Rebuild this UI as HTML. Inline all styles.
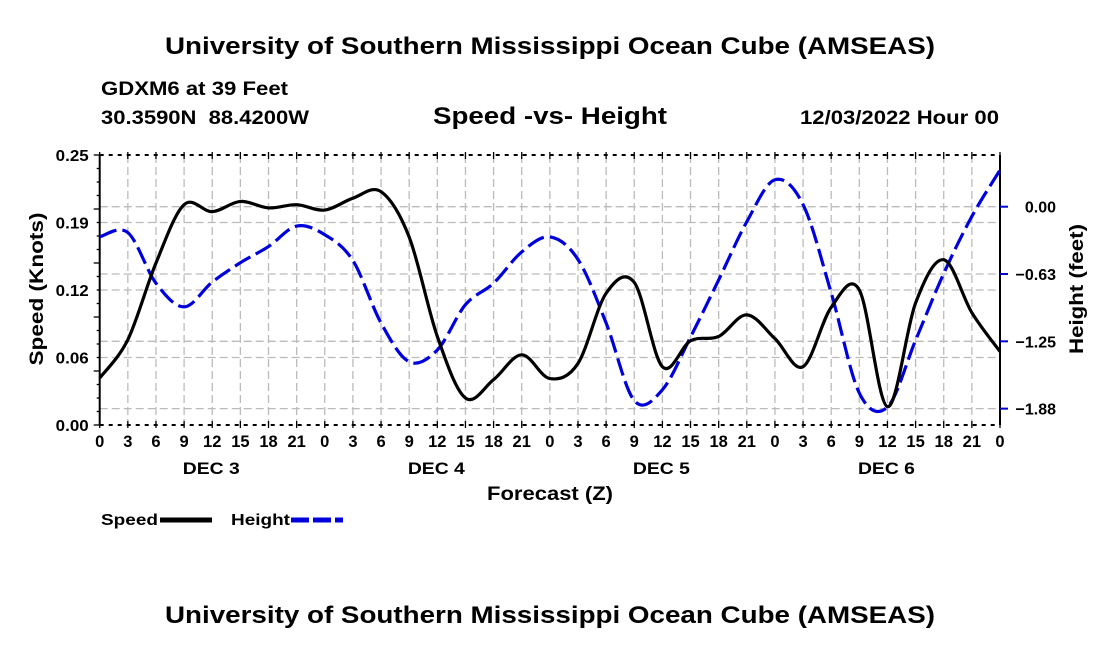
<!DOCTYPE html>
<html><head><meta charset="utf-8"><style>
body{margin:0;background:#fff;}
svg{display:block;font-family:"Liberation Sans",sans-serif;font-weight:bold;}
</style></head><body>
<svg id="c" width="1100" height="650" viewBox="0 0 1100 650">
<text x="550" y="54" text-anchor="middle" font-size="24" textLength="770" lengthAdjust="spacingAndGlyphs">University of Southern Mississippi Ocean Cube (AMSEAS)</text>
<text x="101" y="95" font-size="19" textLength="187" lengthAdjust="spacingAndGlyphs">GDXM6 at 39 Feet</text>
<text x="101" y="124" font-size="19" textLength="208" lengthAdjust="spacingAndGlyphs" xml:space="preserve">30.3590N  88.4200W</text>
<text x="550" y="124" text-anchor="middle" font-size="24" textLength="234" lengthAdjust="spacingAndGlyphs">Speed -vs- Height</text>
<text x="999" y="124" text-anchor="end" font-size="19" textLength="199" lengthAdjust="spacingAndGlyphs">12/03/2022 Hour 00</text>
<g id="grid"></g>
<g id="axes"></g>
<g id="series"></g>
<text x="550" y="500" text-anchor="middle" font-size="19" textLength="126" lengthAdjust="spacingAndGlyphs">Forecast (Z)</text>
<text transform="translate(43,289) rotate(-90)" text-anchor="middle" font-size="19" textLength="153" lengthAdjust="spacingAndGlyphs">Speed (Knots)</text>
<text transform="translate(1083,289) rotate(-90)" text-anchor="middle" font-size="19" textLength="130" lengthAdjust="spacingAndGlyphs">Height (feet)</text>
<g>
<text x="101" y="525" font-size="16" textLength="57" lengthAdjust="spacingAndGlyphs">Speed</text>
<line x1="160" y1="520" x2="212" y2="520" stroke="#000" stroke-width="5"/>
<text x="231" y="525" font-size="16" textLength="59" lengthAdjust="spacingAndGlyphs">Height</text>
<line x1="291" y1="520" x2="343" y2="520" stroke="#0000dd" stroke-width="5" stroke-dasharray="18,4"/>
</g>
<text x="550" y="623" text-anchor="middle" font-size="24" textLength="770" lengthAdjust="spacingAndGlyphs">University of Southern Mississippi Ocean Cube (AMSEAS)</text>
</svg>
<script>
const hours = [0,3,6,9,12,15,18,21,24,27,30,33,36,39,42,45,48,51,54,57,60,63,66,69,72,75,78,81,84,87,90,93,96];
const speed = [0.0435,0.079,0.150,0.204,0.1975,0.207,0.201,0.204,0.199,0.210,0.216,0.174,0.082,0.025,0.042,0.065,0.043,0.057,0.122,0.132,0.054,0.078,0.082,0.102,0.080,0.054,0.109,0.125,0.017,0.113,0.153,0.104,0.068];
const height = [-0.28,-0.24,-0.71,-0.93,-0.70,-0.52,-0.37,-0.18,-0.26,-0.50,-1.08,-1.44,-1.33,-0.91,-0.71,-0.42,-0.28,-0.49,-1.08,-1.80,-1.70,-1.21,-0.68,-0.14,0.25,0.02,-0.80,-1.73,-1.86,-1.24,-0.62,-0.09,0.34];
const xTickLabels = ["0","3","6","9","12","15","18","21"];
const dayLabels = ["DEC 3","DEC 4","DEC 5","DEC 6"];
const leftTicks = [0,0.0625,0.125,0.1875,0.25];
const leftTickLabels = ["0.00","0.06","0.12","0.19","0.25"];
const rightTicks = [0,-0.625,-1.25,-1.875];
const rightTickLabels = ["0.00","-0.63","-1.25","-1.88"];

const L=99.7,R=1000,T=155,B=425;
const xs=t=>L+(R-L)*t/96;
const ys=v=>B-(B-T)*v/0.25;
const yh=h=>206.7-h*107.7;
const NS='http://www.w3.org/2000/svg';
function mk(tag,attrs,parent){const e=document.createElementNS(NS,tag);for(const k in attrs)e.setAttribute(k,attrs[k]);parent.appendChild(e);return e;}
const grid=document.getElementById('grid'),axes=document.getElementById('axes'),series=document.getElementById('series');
for(let i=1;i<32;i++){const x=xs(i*3);const l=mk('line',{x1:x,x2:x,y1:T,y2:B,stroke:'#bbb','stroke-width':1.3,'stroke-dasharray':'8,4'},grid);

}
leftTicks.slice(1,-1).forEach(v=>{const l=mk('line',{x1:L,x2:R,y1:ys(v),y2:ys(v),stroke:'#bbb','stroke-width':1.3,'stroke-dasharray':'8,4'},grid);

});
rightTicks.forEach(v=>{const l=mk('line',{x1:L,x2:R,y1:yh(v),y2:yh(v),stroke:'#bbb','stroke-width':1.3,'stroke-dasharray':'8,4'},grid);

});
mk('line',{x1:L,x2:L,y1:T,y2:B,stroke:'#000','stroke-width':2},axes);
mk('line',{x1:R,x2:R,y1:T,y2:B,stroke:'#000','stroke-width':2},axes);
mk('line',{x1:L,x2:R,y1:T,y2:T,stroke:'#000','stroke-width':2,'stroke-dasharray':'4,5'},axes);
mk('line',{x1:L,x2:R,y1:B,y2:B,stroke:'#000','stroke-width':2,'stroke-dasharray':'4,5'},axes);
for(let i=0;i<=32;i++){const x=xs(i*3);
mk('line',{x1:x,x2:x,y1:T-3,y2:T+4,stroke:'#000','stroke-width':1.3},axes);
mk('line',{x1:x,x2:x,y1:B-4,y2:B+3,stroke:'#000','stroke-width':1.3},axes);
const t=mk('text',{x:x,y:447,'text-anchor':'middle','font-size':16.5},axes);t.textContent=i==32?"0":xTickLabels[i%8];

}
dayLabels.forEach((d,i)=>{const t=mk('text',{x:xs(12+24*i)-1,y:474,'text-anchor':'middle','font-size':16.5,textLength:57,lengthAdjust:'spacingAndGlyphs'},axes);t.textContent=d;

});
for(let i=0;i<=20;i++){const y=B-(B-T)*i/20;mk('line',{x1:L-(i%4==0?6:3),x2:L,y1:y,y2:y,stroke:'#000','stroke-width':1.3},axes);}
leftTicks.forEach((v,i)=>{const t=mk('text',{x:L-11,y:ys(v)+6,'text-anchor':'end','font-size':16,textLength:33,lengthAdjust:'spacingAndGlyphs'},axes);t.textContent=leftTickLabels[i];

});
rightTicks.forEach((v,i)=>{mk('line',{x1:R,x2:R+8,y1:yh(v),y2:yh(v),stroke:'#0000cc','stroke-width':2},axes);
const t=mk('text',{x:1056,y:yh(v)+6,'text-anchor':'end','font-size':16},axes);t.textContent=rightTickLabels[i].replace('-','\u2212');

});
function smooth(pts){let d='M'+pts[0][0]+','+pts[0][1];
for(let i=0;i<pts.length-1;i++){const p0=pts[i-1]||pts[i],p1=pts[i],p2=pts[i+1],p3=pts[i+2]||p2;
d+=' C'+(p1[0]+(p2[0]-p0[0])/6)+','+(p1[1]+(p2[1]-p0[1])/6)+' '+(p2[0]-(p3[0]-p1[0])/6)+','+(p2[1]-(p3[1]-p1[1])/6)+' '+p2[0]+','+p2[1];}
return d;}
const hp=mk('path',{d:smooth(hours.map((t,i)=>[xs(t),yh(height[i])])),fill:'none',stroke:'#0000dd','stroke-width':3.2,'stroke-dasharray':'18,6'},series);


const sp=mk('path',{d:smooth(hours.map((t,i)=>[xs(t),ys(speed[i])])),fill:'none',stroke:'#000','stroke-width':3.2},series);


</script>
</body></html>
